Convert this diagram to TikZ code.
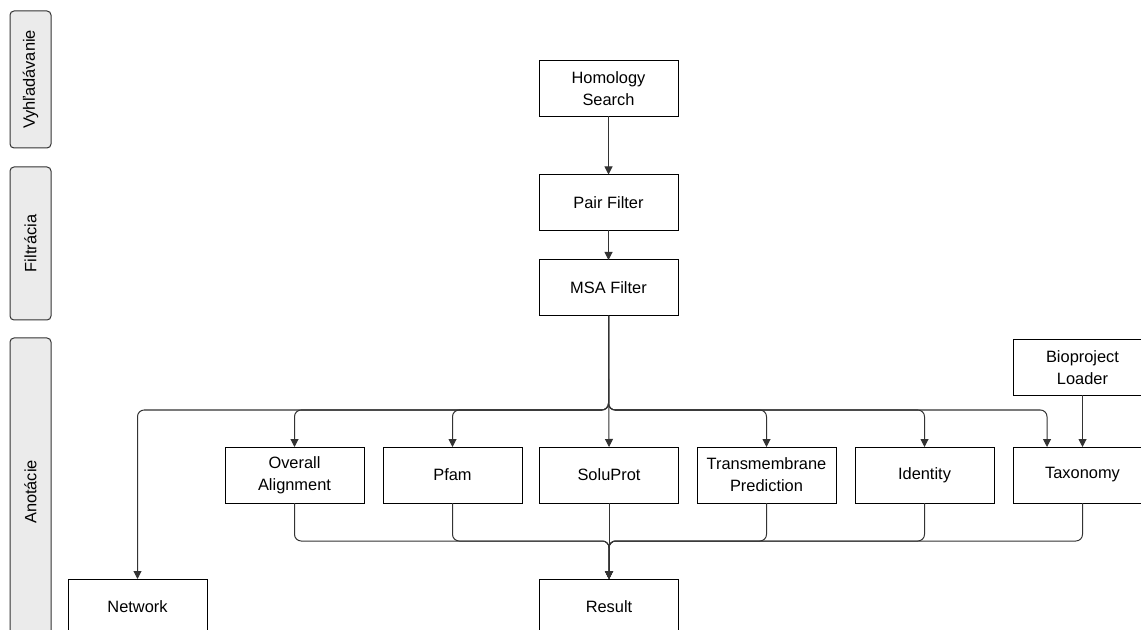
\documentclass[tikz,border=0pt]{standalone}
\usepackage{fontspec}
\setmainfont{Liberation Sans}
\usetikzlibrary{arrows.meta,calc}
\definecolor{edge}{HTML}{333333}
\definecolor{lanefill}{HTML}{EBEBEB}
\tikzset{
  box/.style={draw=black, line width=0.75pt, fill=white, minimum width=104.25pt,
    minimum height=42pt, inner sep=0pt, outer sep=0pt, align=center,
    font=\fontsize{12.3}{16.6}\selectfont},
  lane/.style={draw=edge, line width=0.75pt, fill=lanefill, rounded corners=3pt},
  lanetext/.style={rotate=90, font=\fontsize{12.3}{16.6}\selectfont},
  flow/.style={draw=edge, line width=0.75pt, rounded corners=5pt,
    -{Triangle[length=6pt,width=6pt]}},
}
\begin{document}
\begin{tikzpicture}[x=0.75pt,y=-0.75pt]
\clip (0,0) rectangle (1141,630);
\fill[white] (0,0) rectangle (1141,630);

% swimlane headers
\draw[lane] (10,11) rectangle (51,148);
\node[lanetext] (l1) at (30.5,79.5) {Vyhľadávanie};
\draw[lane] (10,167) rectangle (51,320);
\node[lanetext] (l2) at (30.5,243.5) {Filtrácia};
\draw[lane] (10,338) rectangle (51,646);
\node[lanetext] (l3) at (30.5,492) {Anotácie};

% pipeline steps
\node[box] (hs) at (608.5,88.5) {Homology\\Search};
\node[box] (pf) at (608.5,202.5) {Pair Filter};
\node[box] (msa) at (608.5,288) {MSA Filter};
\node[box] (bl) at (1082.5,367.5) {Bioproject\\Loader};

\node[box] (ov) at (294.5,475) {Overall\\Alignment};
\node[box] (pfam) at (452.5,475) {Pfam};
\node[box] (sp) at (609,475) {SoluProt};
\node[box] (tm) at (766.5,475) {Transmembrane\\Prediction};
\node[box] (id) at (924.5,475) {Identity};
\node[box] (tx) at (1082.5,475) {Taxonomy};

\node[box] (nw) at (137.5,607) {Network};
\node[box] (rs) at (609,607) {Result};

% bus levels
\coordinate (topbus) at (0,410);
\coordinate (botbus) at (0,541);
\coordinate (txin) at ($(tx.north)+(-35.5,0)$);

% connectors
\draw[flow] (hs) -- (pf);
\draw[flow] (pf) -- (msa);

\draw[flow] (msa.south) |- (nw.north |- topbus) -- (nw.north);
\draw[flow] (msa.south) |- (ov.north |- topbus) -- (ov.north);
\draw[flow] (msa.south) |- (pfam.north |- topbus) -- (pfam.north);
\draw[flow] (msa.south) -- (sp.north);
\draw[flow] (msa.south) |- (tm.north |- topbus) -- (tm.north);
\draw[flow] (msa.south) |- (id.north |- topbus) -- (id.north);
\draw[flow] (msa.south) |- (txin |- topbus) -- (txin);
\draw[flow] (bl.south) -- (tx.north);

\draw[flow] (ov.south) |- (rs.north |- botbus) -- (rs.north);
\draw[flow] (pfam.south) |- (rs.north |- botbus) -- (rs.north);
\draw[flow] (sp.south) -- (rs.north);
\draw[flow] (tm.south) |- (rs.north |- botbus) -- (rs.north);
\draw[flow] (id.south) |- (rs.north |- botbus) -- (rs.north);
\draw[flow] (tx.south) |- (rs.north |- botbus) -- (rs.north);
\end{tikzpicture}
\end{document}
